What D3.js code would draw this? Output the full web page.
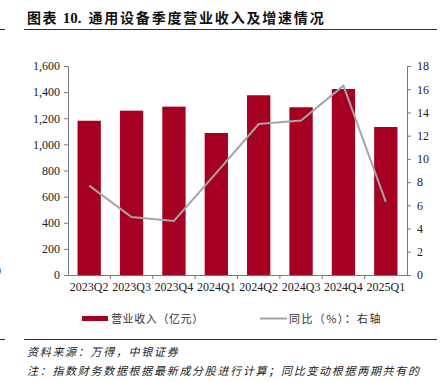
<!DOCTYPE html>
<html>
<head>
<meta charset="utf-8">
<script src="https://cdn.jsdelivr.net/npm/d3@7"></script>
<style>
  body { margin: 0; background: #fff; }
  svg { display: block; }
</style>
</head>
<body>
<svg id="canvas" width="447" height="382"></svg>
<script>
let quarters = ['2023Q2', '2023Q3', '2023Q4', '2024Q1', '2024Q2', '2024Q3', '2024Q4', '2025Q1']
let revenue = [1181, 1258, 1289, 1087, 1376, 1284, 1424, 1133]
let yoy = [7.7, 5.0, 4.65, 8.8, 13.0, 13.3, 16.3, 6.3]
let leftTicks = [0, 200, 400, 600, 800, 1000, 1200, 1400, 1600]
let rightTicks = [0, 2, 4, 6, 8, 10, 12, 14, 16, 18]

let canvas = d3.select('#canvas')
let serif = '"Liberation Serif", "Times New Roman", serif'
let cjk = '"Noto Sans CJK SC", sans-serif'

let plotLeft = 68, plotRight = 407, plotTop = 66, plotBottom = 275

// title
let title = canvas.append('text')
    .attr('x', 27).attr('y', 23)
    .style('font-family', cjk)
    .style('font-weight', 'bold')
    .style('font-size', '14px')
    .attr('fill', '#111')
title.append('tspan').style('letter-spacing', '1.5px').text('图表 ')
title.append('tspan').style('font-family', serif).style('font-size', '15px').text('10.')
title.append('tspan').attr('dx', 7).style('letter-spacing', '1.8px').text('通用设备季度营业收入及增速情况')

canvas.append('line').attr('x1', 24).attr('x2', 437).attr('y1', 29.5).attr('y2', 29.5)
    .attr('stroke', '#333').attr('stroke-width', 1)
canvas.append('line').attr('x1', 0).attr('x2', 5).attr('y1', 29.5).attr('y2', 29.5)
    .attr('stroke', '#333').attr('stroke-width', 1)

let x = d3.scaleBand()
    .domain(quarters)
    .range([plotLeft, plotRight])
    .paddingInner(0.45)
    .paddingOuter(0.225)

let xb = d3.scaleBand().domain(quarters).range([plotLeft, plotRight])

let y = d3.scaleLinear().domain([0, 1600]).range([plotBottom, plotTop])
let y2 = d3.scaleLinear().domain([0, 18]).range([plotBottom, plotTop])

// bars
canvas.selectAll('rect.bar')
    .data(revenue)
    .enter()
    .append('rect')
    .attr('class', 'bar')
    .attr('x', (d, i) => x(quarters[i]))
    .attr('y', d => y(d))
    .attr('width', x.bandwidth())
    .attr('height', d => plotBottom - y(d))
    .attr('fill', '#A50021')

// axes
let styleAxis = (g) => {
    g.select('.domain').attr('stroke', '#777')
    g.selectAll('.tick line').attr('stroke', '#777')
    g.selectAll('text')
        .style('font-family', serif)
        .style('font-size', '12px')
        .attr('fill', '#222')
}

canvas.append('g')
    .attr('transform', 'translate(' + plotLeft + ',0)')
    .call(d3.axisLeft(y).tickValues(leftTicks).tickFormat(d3.format(',')).tickSize(4).tickSizeOuter(0).tickPadding(4))
    .call(styleAxis)

canvas.append('g')
    .attr('transform', 'translate(' + plotRight + ',0)')
    .call(d3.axisRight(y2).tickValues(rightTicks).tickSize(4).tickSizeOuter(0).tickPadding(6))
    .call(styleAxis)

canvas.append('g')
    .attr('transform', 'translate(0,' + plotBottom + ')')
    .call(d3.axisBottom(xb).tickSize(0).tickSizeOuter(0).tickPadding(7))
    .call(styleAxis)

// ticks at category boundaries
canvas.selectAll('line.xtick')
    .data(quarters.slice(1))
    .enter()
    .append('line')
    .attr('class', 'xtick')
    .attr('x1', d => xb(d)).attr('x2', d => xb(d))
    .attr('y1', plotBottom).attr('y2', plotBottom + 4)
    .attr('stroke', '#777')

// line
let line = d3.line()
    .x((d, i) => xb(quarters[i]) + xb.bandwidth() / 2)
    .y(d => y2(d))

canvas.append('path')
    .datum(yoy)
    .attr('d', line)
    .attr('fill', 'none')
    .attr('stroke', '#A5A5A5')
    .attr('stroke-width', 2)

// legend
canvas.append('rect').attr('x', 82).attr('y', 316).attr('width', 26).attr('height', 5).attr('fill', '#A50021')
canvas.append('text').attr('x', 111).attr('y', 323)
    .style('font-family', cjk).style('font-size', '11px').style('letter-spacing', '0.6px').attr('fill', '#333')
    .text('营业收入（亿元）')
canvas.append('line').attr('x1', 260).attr('x2', 287).attr('y1', 318.5).attr('y2', 318.5)
    .attr('stroke', '#A5A5A5').attr('stroke-width', 2)
canvas.append('text').attr('x', 289).attr('y', 323)
    .style('font-family', cjk).style('font-size', '11px').style('letter-spacing', '1.4px').attr('fill', '#333')
    .text('同比（%）：右轴')

// stray label from neighbouring chart
canvas.append('text').attr('x', -5).attr('y', 275)
    .style('font-family', serif).style('font-size', '12px').attr('fill', '#222')
    .text('0')

// source notes
canvas.append('line').attr('x1', 24).attr('x2', 437).attr('y1', 339.5).attr('y2', 339.5)
    .attr('stroke', '#333').attr('stroke-width', 1)
canvas.append('line').attr('x1', 0).attr('x2', 5).attr('y1', 339.5).attr('y2', 339.5)
    .attr('stroke', '#333').attr('stroke-width', 1)

let notes = ['资料来源：万得，中银证券', '注：指数财务数据根据最新成分股进行计算；同比变动根据两期共有的', '成分股计算']
canvas.selectAll('text.note')
    .data(notes)
    .enter()
    .append('text')
    .attr('class', 'note')
    .attr('x', 27)
    .attr('y', (d, i) => 356 + i * 19)
    .style('font-family', cjk)
    .style('font-size', '11px')
    .style('font-style', 'italic')
    .style('letter-spacing', '1.7px')
    .attr('fill', '#222')
    .text(d => d)
</script>
</body>
</html>
